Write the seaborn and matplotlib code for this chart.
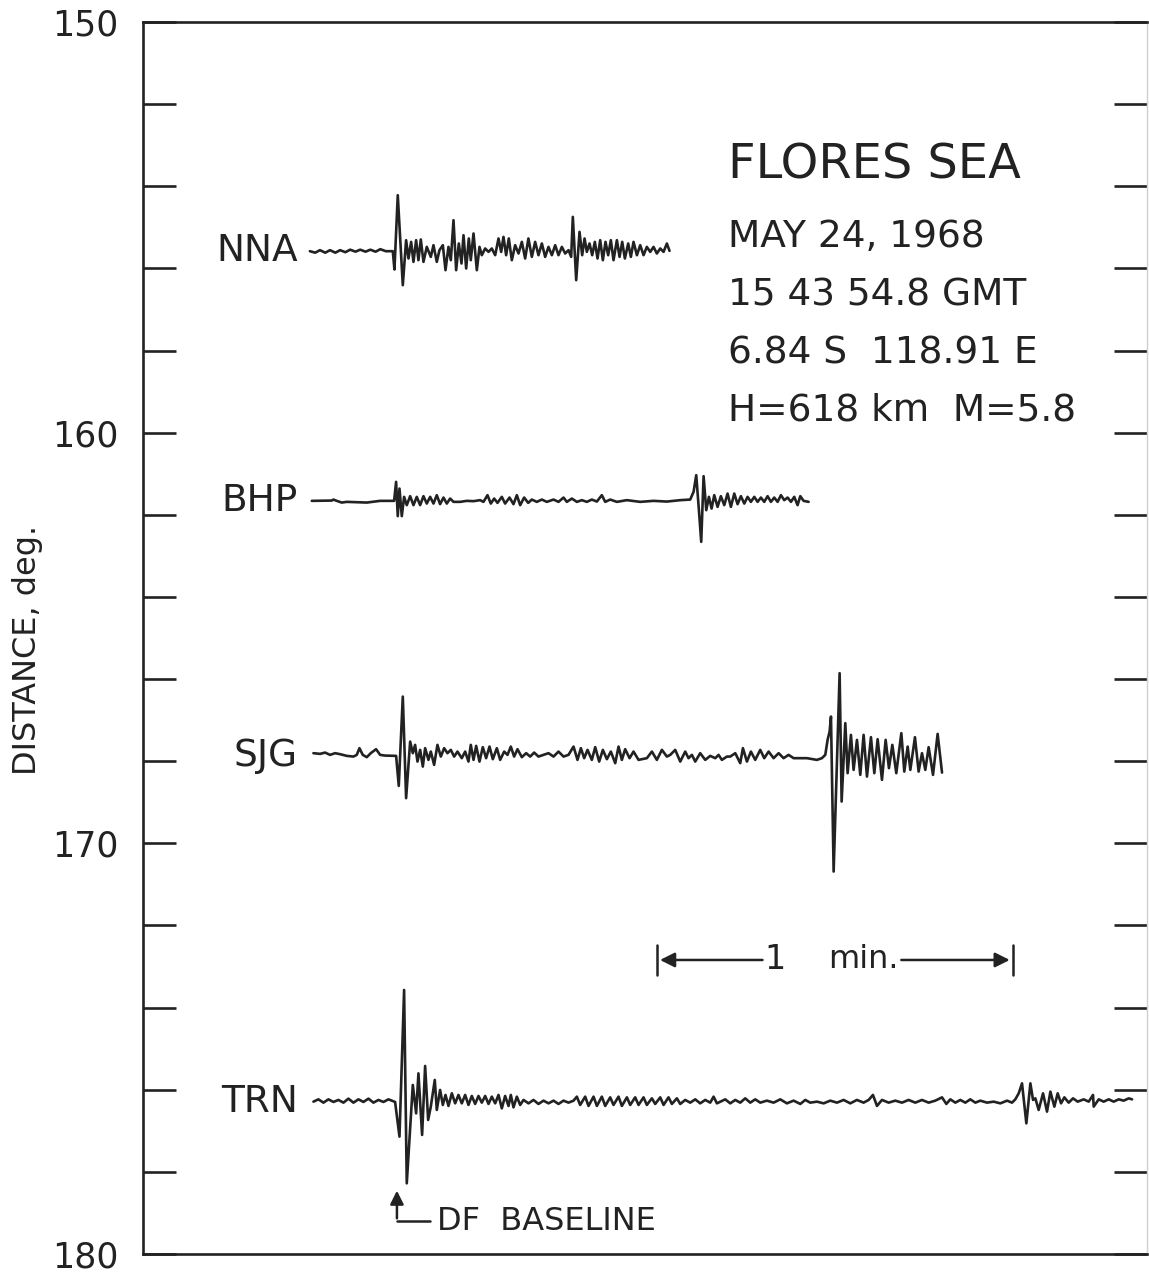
import numpy as np
import pandas as pd
import matplotlib
matplotlib.use("Agg")
import matplotlib.pyplot as plt
import seaborn as sns

# time in s relative to the DF baseline, amplitude in trace units (upward positive)
nna_time = [-14.9, -14.0, -13.2, -12.3, -11.5, -10.6, -9.8, -8.9, -8.1, -7.2, -6.4, -5.5, -4.7, -3.8, -3.0, -2.1, -1.3, -0.9,
            -0.62, -0.06, 0.79, 1.35, 1.75, 2.2, 2.59, 3.04, 3.43, 3.83, 4.28, 4.84, 5.52, 5.97, 6.53, 6.98, 7.55, 8.0, 8.5, 8.9,
            9.35, 9.8, 10.25, 10.7, 11.04, 11.49, 11.94, 12.27, 12.73, 13.29, 13.74, 14.13, 14.7, 15.26, 15.82, 16.39, 16.95,
            17.4, 17.79, 18.24, 18.69, 19.2, 19.76, 20.33, 20.89, 21.45, 22.0, 22.58, 23.14, 23.7, 24.27, 24.83, 25.39, 25.96,
            26.52, 27.08, 27.65, 28.21, 28.77, 29.22, 29.5, 30.07, 30.63, 31.08, 31.48, 31.87, 32.32, 32.77, 33.22, 33.67,
            34.12, 34.57, 35.02, 35.47, 35.92, 36.37, 36.94, 37.39, 37.84, 38.29, 38.85, 39.3, 39.75, 40.32, 40.88, 41.44,
            42.0, 42.57, 43.13, 43.69, 44.26, 44.82, 45.38, 45.83]
nna_amp = [0, -1.5, 1, -1.5, 1, -1.5, 1, -1, 1.5, -0.5, 1.5, -0.5, 1.5, -0.5, 2, 0, 0, 0,
           -18.3, 56, -34, 11, -7.3, 9.3, -10.7, 11, -9, 11.7, -10.7, 4.3, -5.7, 6, -10.7, 1, 6, -19, 4.3, -9,
           31, -19, 7.7, -12.3, 16, -17.3, 12.7, -9, 17.7, -19, 4.3, -4, 2.7, -0.7, 2.7, -4, 12.7,
           -0.7, 14.3, -4, 12.7, -9, 6, -2.3, 9.3, -7.3, 12.7, -5.7, 9.3, -4, 7.7, -5.7, 4.3, -4,
           6, -4, 4.3, -2.3, 1, -5.7, 34.3, -29, 19.3, -4, 12.7, -0.7, 7.7, -4, 9.3, -7.3,
           11, -9, 9.3, -4, 11, -9, 11, -5.7, 9.3, -7.3, 7.7, -5.7, 9.3, -4, 6, -4,
           4.3, -0.7, 4.3, -2.3, 2.7, -0.7, 7.7, 0.3]

bhp_time = [-14.58, -11.2, -10.92, -10.36, -9.52, -8.67, -5.29, -3.04, -1.07, -0.68, -0.34, -0.06, 0.23, 0.62, 1.01,
            1.46, 2.03, 2.59, 3.15, 3.72, 4.28, 4.84, 5.41, 5.97, 6.53, 7.09, 7.66, 8.22, 8.78, 9.35, 10.47, 11.6, 12.73,
            13.85, 14.41, 15.09, 15.65, 16.22, 16.78, 17.51, 18.07, 18.81, 19.48, 20.05, 20.61, 21.28, 21.96, 22.58,
            23.42, 24.27, 25.11, 26.24, 27.08, 27.93, 28.49, 29.34, 30.18, 31.02, 31.87, 32.71, 33.56, 34.4, 34.97,
            35.81, 36.94, 38.63, 40.88, 43.13, 45.38, 47.64, 49.32, 49.89, 50.34, 50.79, 51.18, 51.58, 52.03, 52.48,
            52.93, 53.38, 53.94, 54.5, 55.07, 55.63, 56.19, 56.76, 57.32, 57.88, 58.45, 59.01, 59.57, 60.14, 60.7,
            61.26, 61.82, 62.39, 62.95, 63.51, 64.08, 64.64, 65.2, 65.77, 66.33, 66.89, 67.45, 67.91, 68.47, 69.31]
bhp_amp = [0, 0.3, 1.3, 0, -1.7, -1, -1.7, 0, 0, 0, 19, -15.3, 12.3, -15.3, 4,
           -4.3, 4.7, -4.3, 4, -4.3, 4.7, -2.7, 4, -2.7, 5.7, -3.3, 3.3, -2.7, 2.3, -1, -1, 0, -0.3,
           0.7, -1, 5.7, -2.7, 2.3, -2, 4, -2.7, 3.3, -3.3, 5.7, -4.3, 3.3, -2, 1.3,
           -1, 1.3, -1, 1.3, -1, 3.3, -1, 2.3, -1, 0.7, -1, 1.3, -0.7, 5.7, -1,
           1.3, -1, 0.7, -1, 0, -0.7, 0.7, 1.3, 9, 25.7, -9.3, -41, 24.7, -9.3, 4,
           -7.7, 5.7, -6, 4.7, -4.3, 7.3, -6, 7.3, -3.3, 4.7, -2.7, 4, -1, 4, -1,
           3.3, -1, 4.7, -1, 3.3, -1, 5.7, 0.7, 3.3, -1, 4, -4.3, 4.7, 0, -1]

sjg_time = [-14.3, -13.18, -12.33, -11.49, -10.64, -9.8, -8.67, -7.55, -6.98, -6.53, -5.97, -5.29, -4.62, -3.72, -3.04,
            -2.2, -0.34, 0.11, 0.79, 1.35, 2.03, 2.48, 2.87, 3.27, 3.72, 4.17, 4.56, 5.12, 5.52, 6.08, 6.64, 7.21, 7.77,
            8.33, 8.9, 9.46, 10.02, 10.75, 11.32, 11.88, 12.27, 12.73, 13.18, 13.74, 14.3, 14.86, 15.43, 15.99, 16.67,
            17.23, 17.91, 18.47, 19.03, 19.59, 20.16, 20.89, 21.62, 22.3, 22.97, 23.7, 24.55, 25.39, 26.24, 27.08,
            27.93, 28.77, 29.62, 30.29, 30.86, 31.42, 31.98, 32.71, 33.28, 33.95, 34.57, 35.25, 35.92, 36.66, 37.22,
            37.78, 38.34, 39.08, 39.75, 40.6, 42.0, 42.85, 43.69, 44.54, 45.38, 45.95, 46.79, 47.64, 48.48, 49.04,
            49.61, 50.17, 51.01, 51.86, 52.7, 53.55, 54.11, 54.67, 55.52, 56.08, 56.93, 57.77, 58.22, 58.9, 59.57,
            60.3, 61.15, 61.82, 62.56, 63.4, 64.25, 65.09, 65.93, 66.78, 69.03, 70.72, 71.56, 72.13, 72.52, 72.86,
            73.09, 73.54, 74.55, 74.89, 75.51, 75.9, 76.46, 76.91, 77.48, 78.04, 78.6, 79.17, 79.84, 80.41, 80.97,
            81.7, 82.32, 82.88, 83.45, 84.12, 84.97, 85.47, 86.04, 86.49, 87.27, 87.89, 88.46, 89.02, 89.58, 90.32,
            91.1, 91.84]
sjg_amp = [2.7, 2, 3.3, 1, 2.7, 1.7, 0, -0.7, 1, 7.7, 1, -1.3, 2.7, 6.7, 1,
           0.3, 0, -30, 59.3, -42.3, 14.3, 2.7, 11, -5.7, 6, -10.7, 7.7, -4, 4.3, -9, 11, -0.7, 7.7,
           2.7, 6, -0.7, 4.3, -2.3, 4.3, -5.7, 11, -4, 10, -5.7, 8.7, -2.3, 9.3, -3.3, 7.7,
           -4, 4.3, 1, 9.3, -0.7, 6.7, -1.3, 2.7, -0.7, 3.3, -0.7, 1, 2.7, -0.7, 4.3,
           -0.7, 1, 9.3, -4, 7.7, -2.3, 6, -4, 8.7, -5.7, 6, -3.3, 4.3, -7.3, 9.3,
           -4, 6.7, -2.3, 4.3, -4, -2.3, 4.3, -4, 6, -0.7, 1, 6, -5.7, 4.3, -2.3,
           1, -5.7, 2.7, -4, 0, -2.3, 1, -4, -0.7, -0.7, 2.7, -7.3, 7.7, -5.7, 4.3,
           -4, 6, -2.3, 4.3, -2.3, 2.7, -2.3, 1, -2.3, -2.3, -4, -2.3, 1, 16, 24.3,
           39.3, -115.7, 82.7, -45.7, 32.7, -17.3, 21, -14, 16, -19, 21, -20.7, 18.7, -17.3, 16.7,
           -24, 16, -12.3, 11, -17.3, 22.7, -15.7, 9.3, -14, 18.7, -15.7, 2.7, -14, 8.7, -19,
           22, -16.7]

trn_time = [-14.3, -13.46, -12.61, -11.77, -10.92, -10.08, -9.23, -8.39, -7.55, -6.7, -5.86, -5.01, -4.17, -3.32, -2.48,
            -1.63, -0.51, 0.23, 1.01, 1.46, 2.48, 3.04, 3.43, 4.05, 4.56, 5.07, 5.52, 6.19, 6.53, 7.09, 7.55, 8.0, 8.5,
            9.07, 9.63, 10.19, 10.75, 11.32, 11.88, 12.44, 13.01, 13.57, 14.13, 14.7, 15.26, 15.82, 16.39, 16.95, 17.51,
            18.07, 18.64, 19.03, 19.48, 20.05, 20.61, 21.17, 22.02, 22.86, 23.7, 24.55, 25.39, 26.24, 27.08, 27.93,
            28.77, 29.62, 30.18, 30.74, 31.59, 32.15, 33.0, 33.56, 34.4, 34.97, 35.81, 36.37, 37.22, 37.78, 38.63,
            39.19, 40.03, 40.6, 41.44, 42.0, 42.85, 43.41, 44.26, 44.82, 45.66, 46.23, 47.07, 47.64, 48.48, 49.32,
            50.17, 51.01, 51.86, 52.7, 53.27, 53.83, 55.24, 56.08, 56.93, 57.77, 58.61, 59.46, 60.3, 61.15, 62.27,
            63.4, 64.53, 65.65, 66.78, 67.91, 68.75, 69.59, 70.72, 71.85, 72.97, 74.1, 75.23, 76.35, 77.48, 78.6,
            79.45, 80.18, 80.86, 81.7, 82.83, 83.95, 85.08, 86.2, 87.33, 88.46, 89.58, 90.71, 91.84, 92.57, 93.24,
            94.09, 94.93, 95.78, 96.62, 97.47, 98.31, 99.44, 100.56, 101.69, 102.82, 103.66, 104.22, 104.79, 105.35,
            106.08, 106.76, 107.21, 107.6, 108.16, 108.9, 109.57, 110.14, 110.81, 111.37, 111.94, 112.5, 113.23,
            113.96, 114.75, 115.77, 116.61, 117.34, 117.45, 118.3, 119.14, 119.99, 120.83, 121.68, 122.52, 123.37,
            123.93]
trn_amp = [0, 2.3, -1, 2.3, -0.3, 1.7, -1, 3, -1, 2.3, -0.3, 3, -1, 1.7, -0.3,
           2.3, -0.3, -35, 111.7, -81.7, 16.7, -11.7, 28.3, -33.3, 35.7, -18.3, -5, 21.7, -8.3, 11.7, -3.3, 6.7, -4.3,
           8.3, -1.7, 6.7, -1.7, 6.7, -3.3, 5.7, -2.3, 5.7, -1, 5.7, -2.3, 5, -1.7, 6.7, -6.7,
           5.7, -4.3, 6.7, -5.7, 5, -3.3, 1.7, -1.7, 1.7, -2.3, 1, -1.7, 1, -2.3, 1,
           -1, 1, 5, -3.3, 5, -4.3, 5, -4.3, 5, -4.3, 4.3, -3.3, 5, -4.3, 4.3,
           -3.3, 4.3, -3.3, 4.3, -3.3, 3.3, -2.3, 4.3, -3.3, 4.3, -2.3, 3.3, -2.3, 1.7, -1,
           2.3, -1.7, 1.7, -1, 5, -1.7, 2.3, -1.7, 1.7, -1, 3.3, -1, 2.3, -1, 1,
           -1, 2.3, -1.7, 1, -2.3, 1.7, -1, 0, -1.7, 1, -1, 1.7, -1.7, 1.7, -1,
           1.7, 6.7, -4.3, 1.7, -1, 1, -1, 1.7, -1, 1.7, -1, 1, 4.3, -2.3, 2.3,
           -1, 1.7, -1, 2.3, -1, 1, -1, 0, -1.7, 1, -1, 2.3, 8.3, 18.3,
           -21.7, 18.3, 1.7, 3.3, -8.3, 8.3, -10, 10, -5, 8.3, -1.7, 4.3, -1,
           3.3, 0, 2.3, 0, 6.7, -5, 2.3, 0, 2.3, 0, 2.3, 1, 3.3,
           2.3]

stations = ["NNA", "BHP", "SJG", "TRN"]
station_dist = [155.58, 161.66, 167.87, 176.29]
event_lines = ["FLORES SEA", "MAY 24, 1968", "15 43 54.8 GMT", "6.84 S  118.91 E", "H=618 km  M=5.8"]
ytick_vals = [150, 160, 170, 180]

traces = {
    "NNA": (nna_time, nna_amp),
    "BHP": (bhp_time, bhp_amp),
    "SJG": (sjg_time, sjg_amp),
    "TRN": (trn_time, trn_amp),
}

ink = "#222222"
gain = 1 / 41.07  # deg of plot per trace unit

sns.set_style("white")
plt.rcParams["font.family"] = ["DejaVu Sans"]

fig = plt.figure(figsize=(11.49, 12.74), dpi=100)
ax = fig.add_axes([0.1245, 0.0157, 0.874, 0.967])

for name, dist in zip(stations, station_dist):
    t, a = traces[name]
    df = pd.DataFrame({"t": t, "y": dist - np.array(a) * gain})
    sns.lineplot(data=df, x="t", y="y", ax=ax, color=ink, lw=1.9,
                 estimator=None, sort=False)
    ax.text(-16.9, dist, name, ha="right", va="center", fontsize=27, color=ink)

# event info
info_y = [153.48, 155.24, 156.65, 158.06, 159.45]
for i, (line, yy) in enumerate(zip(event_lines, info_y)):
    ax.text(55.7, yy, line, ha="left", va="center", color=ink,
            fontsize=34.5 if i == 0 else 27)

# 1 min bar
yb = 172.84
ax.annotate("", xy=(43.75, yb), xytext=(62.0, yb),
            arrowprops=dict(arrowstyle="-|>", color=ink, lw=1.8, mutation_scale=22))
ax.annotate("", xy=(103.75, yb), xytext=(84.5, yb),
            arrowprops=dict(arrowstyle="-|>", color=ink, lw=1.8, mutation_scale=22))
ax.plot([43.75, 43.75], [yb - 0.37, yb + 0.37], color=ink, lw=1.8)
ax.plot([103.75, 103.75], [yb - 0.37, yb + 0.37], color=ink, lw=1.8)
ax.text(63.7, yb, "1", ha="center", va="center", fontsize=24, color=ink)
ax.text(72.6, yb, "min.", ha="left", va="center", fontsize=23, color=ink)

# DF baseline marker
ax.annotate("", xy=(-0.2, 178.39), xytext=(-0.2, 179.2),
            arrowprops=dict(arrowstyle="-|>", color=ink, lw=1.8, mutation_scale=20))
ax.plot([-0.2, 5.4], [179.2, 179.2], color=ink, lw=1.8)
ax.text(6.6, 179.22, "DF  BASELINE", ha="left", va="center", fontsize=23, color=ink)

ax.set_xlim(-43.07, 126.5)
ax.set_ylim(180, 150)
ax.set_xticks([])
ax.set_yticks(np.arange(150, 181, 2))
ax.set_yticklabels([str(v) if v in ytick_vals else "" for v in np.arange(150, 181, 2)])
ax.tick_params(axis="y", direction="in", length=24, width=1.9, color=ink,
               labelsize=25, labelcolor=ink, pad=18, left=True, right=True)
ax.set_xlabel("")
ax.set_ylabel("DISTANCE, deg.", fontsize=23, color=ink)
ax.yaxis.set_label_coords(-0.1, 0.49)

for side in ["left", "top", "bottom"]:
    ax.spines[side].set_color(ink)
    ax.spines[side].set_linewidth(1.9)
ax.spines["right"].set_color("#d0d0d0")
ax.spines["right"].set_linewidth(1.0)

fig.savefig("out.png", dpi=100)
